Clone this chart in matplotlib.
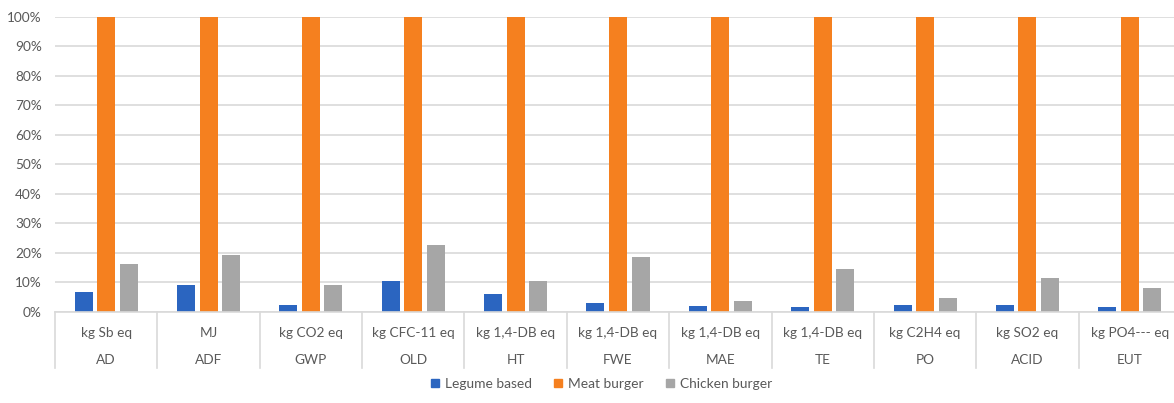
import matplotlib
matplotlib.use("Agg")
import matplotlib.pyplot as plt
from matplotlib.lines import Line2D
import numpy as np

categories = ["AD", "ADF", "GWP", "OLD", "HT", "FWE", "MAE", "TE", "PO", "ACID", "EUT"]
units = ["kg Sb eq", "MJ", "kg CO2 eq", "kg CFC-11 eq", "kg 1,4-DB eq", "kg 1,4-DB eq",
         "kg 1,4-DB eq", "kg 1,4-DB eq", "kg C2H4 eq", "kg SO2 eq", "kg PO4--- eq"]
series_names = ["Legume based", "Meat burger", "Chicken burger"]
legume = [6.7, 9.1, 2.3, 10.5, 6.0, 3.0, 1.9, 1.7, 2.3, 2.2, 1.7]
meat = [100, 100, 100, 100, 100, 100, 100, 100, 100, 100, 100]
chicken = [16.3, 19.1, 9.1, 22.6, 10.5, 18.4, 3.5, 14.4, 4.7, 11.5, 8.0]
yticks = [0, 10, 20, 30, 40, 50, 60, 70, 80, 90, 100]
colors = ["#2B65C0", "#F5801F", "#A6A6A6"]

plt.rcParams['font.family'] = ['Lato', 'DejaVu Sans']
txt = "#595959"
grid = "#D9D9D9"

W, H = 1174, 403
fig = plt.figure(figsize=(W / 100, H / 100), dpi=100)


def fit_size(s, target_px, base=10.0):
    t = fig.text(0, 0, s, fontsize=base)
    w = t.get_window_extent(renderer=fig.canvas.get_renderer()).width
    t.remove()
    return base * target_px / w


fs = fit_size("kg CFC-11 eq", 82.7)
fs_leg = fit_size("Legume based", 86.5)

left, right, top, bottom = 55, 1181, 16.7, 311.7
ax = fig.add_axes([left / W, 1 - bottom / H, (right - left) / W, (bottom - top) / H])

x = np.arange(len(categories))
bw = 0.176
step = 0.22
for i, (vals, c) in enumerate(zip([legume, meat, chicken], colors)):
    ax.bar(x + (i - 1) * step, vals, width=bw, color=c, zorder=3, label=series_names[i])

ax.set_xlim(-0.5, len(categories) - 0.5)
ax.set_ylim(0, 100)
ax.set_yticks(yticks)
ax.set_yticklabels([f"{v}%" for v in yticks], color=txt, fontsize=fs)
ax.tick_params(axis='y', length=0, pad=9.5)
ax.set_xticks([])
ax.grid(axis='y', color=grid, linewidth=1.2, zorder=0)
for s in ["left", "right", "top"]:
    ax.spines[s].set_visible(False)
ax.spines["bottom"].set_color(grid)
ax.spines["bottom"].set_linewidth(1.2)
ax.spines["bottom"].set_zorder(4)

trans = ax.get_xaxis_transform()
ph = bottom - top
sep_depth = (368 - bottom) / ph
for b in np.arange(len(categories) + 1) - 0.5:
    ax.add_line(Line2D([b, b], [0, -sep_depth], transform=trans, color=grid,
                       linewidth=1.2, clip_on=False))
for xi, (u, c) in enumerate(zip(units, categories)):
    ax.text(xi, -(332 - bottom) / ph, u, transform=trans, ha='center', va='center_baseline',
            color=txt, fontsize=fs)
    ax.text(xi, -(359.5 - bottom) / ph, c, transform=trans, ha='center', va='center_baseline',
            color=txt, fontsize=fs)

handles = [Line2D([], [], marker='s', linestyle='none', markersize=5.2,
                  markerfacecolor=c, markeredgecolor=c) for c in colors]
leg = fig.legend(handles, series_names, loc='center', bbox_to_anchor=(601 / W, 1 - 384 / H),
                 ncol=3, frameon=False, fontsize=fs_leg, handletextpad=0.32,
                 columnspacing=1.5, handlelength=0.8)
for t in leg.get_texts():
    t.set_color(txt)

fig.savefig("out.png", dpi=100)
